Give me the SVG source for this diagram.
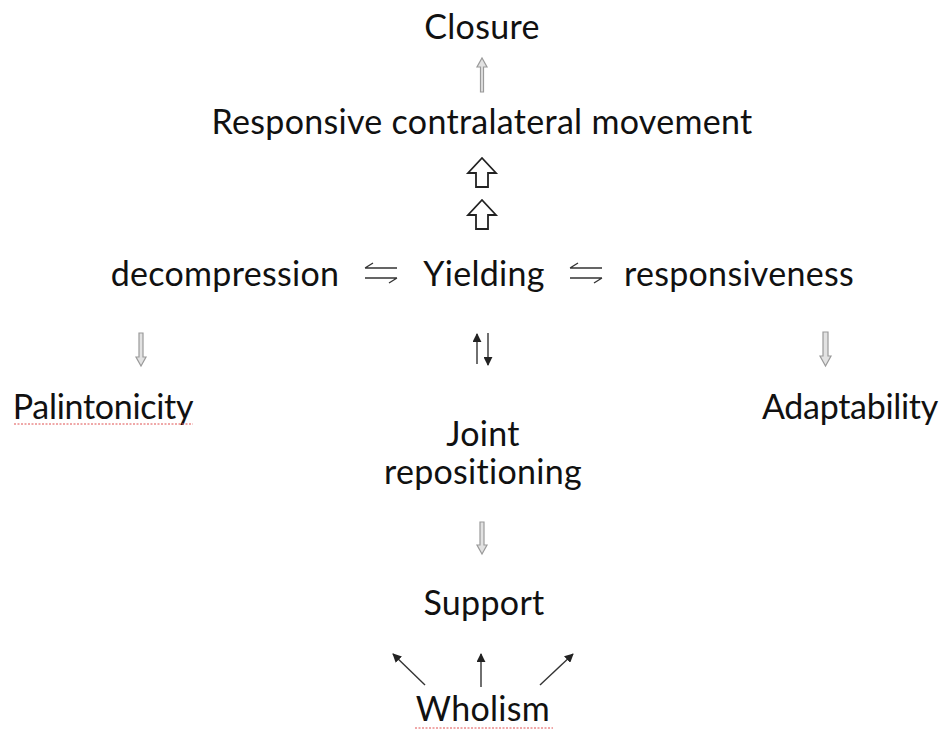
<svg xmlns="http://www.w3.org/2000/svg" width="941" height="734" viewBox="0 0 941 734">
<defs>
<style>
.t{font-family:"Lato","Open Sans","Liberation Sans",sans-serif;font-size:34px;letter-spacing:0.3px;fill:#111;}
.m{text-anchor:middle;}
.n{letter-spacing:-0.3px;}
.g{stroke:#9a9a9a;stroke-width:1.2;fill:#e2e2e2;}
.k{stroke:#222;stroke-width:1.8;fill:none;stroke-linejoin:miter;}
.thin{stroke:#333;stroke-width:1.4;fill:none;}
.sq{stroke:#e05050;stroke-width:1;fill:none;stroke-dasharray:2 1.5;}
</style>
<marker id="ah" viewBox="0 0 10 10" refX="9" refY="5" markerWidth="9" markerHeight="9" orient="auto-start-reverse" markerUnits="userSpaceOnUse">
<path d="M0,0 L10,5 L0,10 Z" fill="#222"/>
</marker>
</defs>
<rect width="941" height="734" fill="#fff"/>
<g id="closure"><text class="t m" x="482" y="39">Closure</text></g>
<g id="responsive"><text class="t m" x="482" y="134">Responsive contralateral movement</text></g>
<g id="decompression"><text class="t m" x="225" y="286">decompression</text></g>
<g id="yielding"><text class="t m" x="484" y="286">Yielding</text></g>
<g id="responsiveness"><text class="t m" x="739" y="286">responsiveness</text></g>
<g id="palintonicity"><text class="t m n" x="103" y="419">Palintonicity</text><path class="sq" d="M14,424 L193,424"/></g>
<g id="adaptability"><text class="t m n" x="850" y="419">Adaptability</text></g>
<g id="joint"><text class="t m" x="483" y="446">Joint</text><text class="t m" x="483" y="484">repositioning</text></g>
<g id="support"><text class="t m" x="484" y="615">Support</text></g>
<g id="wholism"><text class="t m" x="483" y="721">Wholism</text><path class="sq" d="M415,728 L553,728"/></g>
<g id="connectors">
<path class="g" d="M480.5,92 L480.5,67 L477,67 L482,58 L487,67 L483.5,67 L483.5,92 Z"/>
<path class="k" d="M476,187 L476,173 L468,173 L482,158 L496,173 L488,173 L488,187 Z"/>
<path class="k" d="M476,229 L476,215 L468,215 L482,200 L496,215 L488,215 L488,229 Z"/>
<path class="thin" d="M365,268 L397,268 M365,268 L373,263"/>
<path class="thin" d="M365,278 L397,278 M397,278 L389,283"/>
<path class="thin" d="M570,268 L602,268 M570,268 L578,263"/>
<path class="thin" d="M570,278 L602,278 M602,278 L594,283"/>
<path class="g" d="M139,333 L139,357 L136,357 L141,366 L146,357 L143,357 L143,333 Z"/>
<path class="g" d="M823,332 L823,356 L820,356 L825.5,366 L831,356 L828,356 L828,332 Z"/>
<line class="thin" x1="477" y1="364" x2="477" y2="334" marker-end="url(#ah)"/>
<line class="thin" x1="488" y1="333" x2="488" y2="365" marker-end="url(#ah)"/>
<path class="g" d="M480,522 L480,545 L477,545 L482,554 L487,545 L484,545 L484,522 Z"/>
<line class="thin" x1="425" y1="685" x2="393" y2="654" marker-end="url(#ah)"/>
<line class="thin" x1="481" y1="687" x2="481" y2="654" marker-end="url(#ah)"/>
<line class="thin" x1="540" y1="685" x2="573" y2="654" marker-end="url(#ah)"/>
</g>
</svg>
